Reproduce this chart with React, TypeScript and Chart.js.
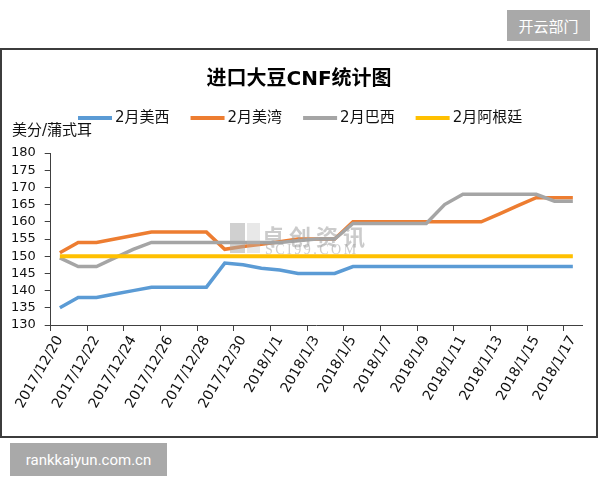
import React, { useEffect, useRef } from "react";
import { Chart, registerables } from "chart.js";

Chart.register(...registerables);

const dates = [
  "2017/12/20", "2017/12/21", "2017/12/22", "2017/12/23", "2017/12/24", "2017/12/25",
  "2017/12/26", "2017/12/27", "2017/12/28", "2017/12/29", "2017/12/30", "2017/12/31",
  "2018/1/1", "2018/1/2", "2018/1/3", "2018/1/4", "2018/1/5", "2018/1/6", "2018/1/7",
  "2018/1/8", "2018/1/9", "2018/1/10", "2018/1/11", "2018/1/12", "2018/1/13",
  "2018/1/14", "2018/1/15", "2018/1/16", "2018/1/17",
];

const seriesNames = ["2月美西", "2月美湾", "2月巴西", "2月阿根廷"];

const usWest = [
  135, 138, 138, 139, 140, 141, 141, 141, 141, 148, 147.5, 146.5, 146, 145, 145,
  145, 147, 147, 147, 147, 147, 147, 147, 147, 147, 147, 147, 147, 147,
];
const usGulf = [
  151, 154, 154, 155, 156, 157, 157, 157, 157, 152, 152.8, 153.5, 154.2, 155, 155,
  155, 160, 160, 160, 160, 160, 160, 160, 160, 162.3, 164.7, 167, 167, 167,
];
const brazil = [
  149.5, 147, 147, 149.5, 152, 154, 154, 154, 154, 154, 154, 154, 154, 154.5, 155,
  155, 159.5, 159.5, 159.5, 159.5, 159.5, 165, 168, 168, 168, 168, 168, 166, 166,
];
const argentina = [
  150, 150, 150, 150, 150, 150, 150, 150, 150, 150, 150, 150, 150, 150, 150,
  150, 150, 150, 150, 150, 150, 150, 150, 150, 150, 150, 150, 150, 150,
];

const seriesColors = ["#5B9BD5", "#ED7D31", "#A5A5A5", "#FFC000"];

const yMin = 130;
const yMax = 180;
const yStep = 5;

const chartTitle = "进口大豆CNF统计图";
const yTitle = "美分/蒲式耳";
const cornerTag = "开云部门";
const footerTag = "rankkaiyun.com.cn";
const watermarkCn = "卓创资讯";
const watermarkEn = "SCI99.COM";

const FONT = '"DejaVu Sans", "Noto Sans CJK SC", sans-serif';

const overlayPlugin = {
  id: "overlayText",
  afterDraw(chart: any) {
    const ctx = chart.ctx;
    ctx.save();
    ctx.fillStyle = "#000";
    ctx.textBaseline = "middle";
    ctx.textAlign = "center";
    ctx.font = `bold 20px ${FONT}`;
    ctx.fillText(chartTitle, 299, 80);

    ctx.font = `15px ${FONT}`;
    ctx.textAlign = "left";
    let x = 78;
    const y = 118;
    chart.data.datasets.forEach((ds: any) => {
      ctx.strokeStyle = ds.borderColor;
      ctx.lineWidth = 4;
      ctx.beginPath();
      ctx.moveTo(x, y);
      ctx.lineTo(x + 34, y);
      ctx.stroke();
      ctx.fillStyle = "#111";
      ctx.fillText(ds.label, x + 37, y);
      x += 37 + ctx.measureText(ds.label).width + 21;
    });

    ctx.fillStyle = "#111";
    ctx.fillText(yTitle, 12, 131);
    ctx.restore();
  },
};

function ChartCanvas() {
  const ref = useRef<HTMLCanvasElement | null>(null);
  useEffect(() => {
    if (!ref.current) return;
    const values = [usWest, usGulf, brazil, argentina];
    const chart = new Chart(ref.current, {
      type: "line",
      data: {
        labels: dates,
        datasets: values.map((v, i) => ({
          label: seriesNames[i],
          data: v,
          borderColor: seriesColors[i],
          backgroundColor: seriesColors[i],
          borderWidth: i === 3 ? 4 : 3.5,
          pointRadius: 0,
          tension: 0,
          fill: false,
          order: 4 - i,
        })),
      },
      options: {
        responsive: false,
        animation: false,
        devicePixelRatio: 1,
        layout: { padding: { left: 10.7, right: 18, top: 153, bottom: 55 } },
        plugins: {
          legend: { display: false },
          title: { display: false },
          tooltip: { enabled: false },
        },
        scales: {
          x: {
            type: "category",
            offset: true,
            afterFit: (s: any) => {
              s.height = 100;
            },
            grid: {
              offset: true,
              drawOnChartArea: false,
              drawTicks: true,
              tickLength: 6,
              tickColor: (c: any) => (c.index % 2 === 0 ? "#404040" : "rgba(0,0,0,0)"),
            },
            border: { display: true, color: "#404040", width: 1 },
            ticks: {
              autoSkip: false,
              minRotation: 60,
              maxRotation: 60,
              padding: 2,
              color: "#111",
              font: { family: FONT, size: 14 },
              callback: (_v: any, i: number) => (i % 2 === 0 ? dates[i] : ""),
            },
          },
          y: {
            min: yMin,
            max: yMax,
            afterFit: (s: any) => {
              s.width = 40;
            },
            grid: {
              drawOnChartArea: false,
              drawTicks: true,
              tickLength: 6,
              tickColor: "#404040",
            },
            border: { display: true, color: "#404040", width: 1 },
            ticks: {
              stepSize: yStep,
              autoSkip: false,
              padding: 9,
              color: "#111",
              font: { family: FONT, size: 13 },
            },
          },
        },
      },
      plugins: [overlayPlugin],
    });
    return () => chart.destroy();
  }, []);
  return (
    <canvas
      ref={ref}
      width={600}
      height={480}
      style={{ position: "absolute", left: 0, top: 0, width: 600, height: 480 }}
    />
  );
}

export default function App() {
  return (
    <div
      style={{
        position: "fixed",
        left: 0,
        top: 0,
        width: 600,
        height: 480,
        background: "#fff",
        overflow: "hidden",
      }}
    >
      <div
        style={{
          position: "absolute",
          left: 507,
          top: 10,
          width: 83,
          height: 31,
          background: "#a9a9a9",
          color: "#fff",
          font: `15px "Noto Sans CJK SC", sans-serif`,
          display: "flex",
          alignItems: "center",
          justifyContent: "center",
        }}
      >
        {cornerTag}
      </div>
      <div
        style={{
          position: "absolute",
          left: 0,
          top: 48,
          width: 598,
          height: 390,
          boxSizing: "border-box",
          border: "2px solid #3c3c3c",
        }}
      />
      <ChartCanvas />
      <div
        style={{
          position: "absolute",
          left: 228,
          top: 223,
          width: 150,
          height: 34,
          pointerEvents: "none",
        }}
      >
        <div style={{ position: "absolute", left: 2, top: 0, width: 15, height: 30, background: "rgba(170,170,170,0.55)" }} />
        <div style={{ position: "absolute", left: 19, top: 0, width: 13, height: 30, background: "rgba(190,190,190,0.35)" }} />
        <div
          style={{
            position: "absolute",
            left: 34,
            top: -4,
            font: `bold 22px "Noto Sans CJK SC", sans-serif`,
            letterSpacing: 5,
            color: "rgba(160,160,160,0.55)",
            whiteSpace: "nowrap",
          }}
        >
          {watermarkCn}
        </div>
        <div
          style={{
            position: "absolute",
            left: 37,
            top: 19,
            font: `14px "Liberation Serif", serif`,
            letterSpacing: 2.5,
            color: "rgba(160,160,160,0.55)",
            whiteSpace: "nowrap",
          }}
        >
          {watermarkEn}
        </div>
      </div>
      <div
        style={{
          position: "absolute",
          left: 10,
          top: 443,
          width: 157,
          height: 33,
          background: "#a9a9a9",
          color: "#fff",
          font: `15px Roboto, sans-serif`,
          display: "flex",
          alignItems: "center",
          justifyContent: "center",
        }}
      >
        {footerTag}
      </div>
    </div>
  );
}
